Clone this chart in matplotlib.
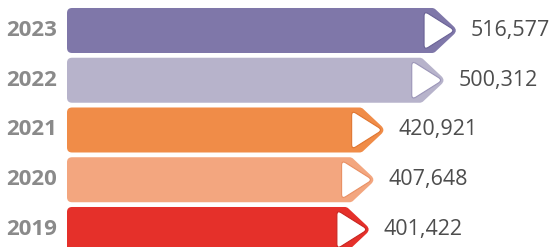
import numpy as np
import matplotlib
matplotlib.use("Agg")
import matplotlib.pyplot as plt
from matplotlib.path import Path
from matplotlib.patches import PathPatch

years = ["2019", "2020", "2021", "2022", "2023"]
values = [401422, 407648, 420921, 500312, 516577]
colors = ["#E5302A", "#F3A67F", "#F08C48", "#B7B3CB", "#7F77A9"]
edges = ["#C92520", "#E98F63", "#E07530", "#9B95B8", "#6A6296"]

W, H = 555, 247
fig = plt.figure(figsize=(W / 100, H / 100), dpi=100)
left_px = 67
ax = fig.add_axes([left_px / W, 0, (W - left_px) / W, 1])
xmax = 644650
ax.set_xlim(0, xmax)
ax.set_ylim(-0.352, 4.613)
ax.axis("off")

# pixel -> data scale factors
sx = (W - left_px) / xmax
sy = H / (4.613 + 0.352)


def rounded_path(pts, radii):
    """closed polygon (pixel units) with rounded corners via quadratic curves"""
    pts = np.asarray(pts, float)
    n = len(pts)
    verts, codes = [], []
    for i in range(n):
        p = pts[i]
        a = pts[i - 1]
        b = pts[(i + 1) % n]
        r = radii[i]
        da = (a - p) / np.linalg.norm(a - p)
        db = (b - p) / np.linalg.norm(b - p)
        p1 = p + da * r
        p2 = p + db * r
        verts.append(p1)
        codes.append(Path.MOVETO if i == 0 else Path.LINETO)
        verts += [p, p2]
        codes += [Path.CURVE3, Path.CURVE3]
    verts.append(verts[0])
    codes.append(Path.CLOSEPOLY)
    return np.array(verts), codes


def to_data(verts, yc):
    out = verts.copy()
    out[:, 0] = verts[:, 0] / sx
    out[:, 1] = yc + verts[:, 1] / sy
    return out


half = 22.5
for i, (yr, v) in enumerate(zip(years, values)):
    L = v * sx  # bar length in pixels
    body = [(0, -half), (L - 24, -half), (L, 0), (L - 24, half), (0, half)]
    vb, cb = rounded_path(body, [5, 2, 6, 2, 5])
    ax.add_patch(PathPatch(Path(to_data(vb, i), cb), facecolor=colors[i],
                           edgecolor="none"))
    tri = [(L - 34, -19.5), (L - 3, 0), (L - 34, 19.5)]
    vt, ct = rounded_path(tri, [5, 5, 5])
    ax.add_patch(PathPatch(Path(to_data(vt, i), ct), facecolor="white",
                           edgecolor=edges[i], lw=0.8))

    ax.annotate(yr, xy=(0, i), xytext=(-10 * 0.72, 0), textcoords="offset points",
                ha="right", va="center", fontsize=16, fontweight="bold",
                color="#8A8A8A", family=["Open Sans", "DejaVu Sans"],
                annotation_clip=False)
    ax.annotate(f"{v:,}", xy=(v, i), xytext=(13 * 0.72, 0), textcoords="offset points",
                ha="left", va="center", fontsize=15.5, color="#4D4D4D",
                family=["Open Sans", "DejaVu Sans"], annotation_clip=False)

fig.savefig("out.png", dpi=100)
